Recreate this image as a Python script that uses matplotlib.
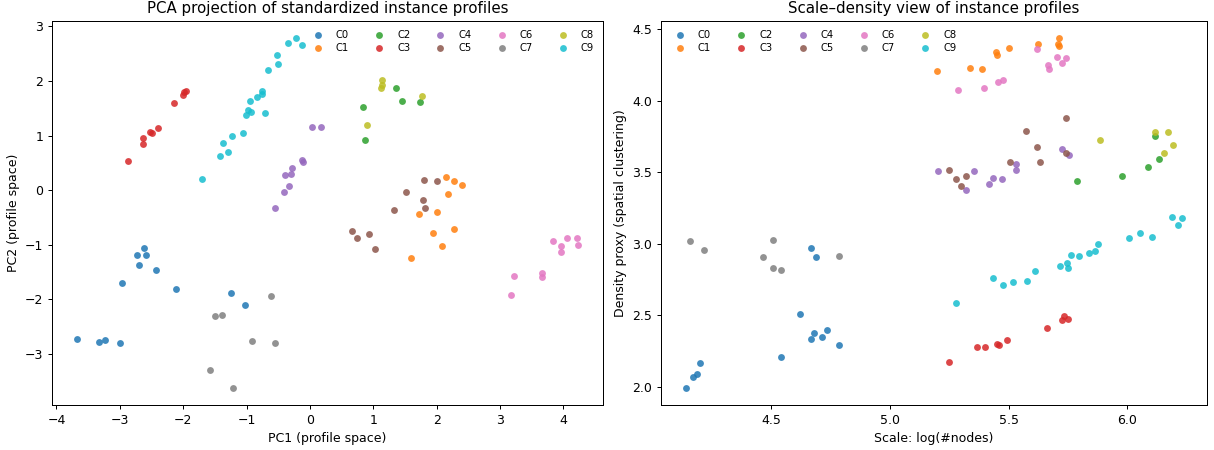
import matplotlib
matplotlib.use("Agg")
import matplotlib.pyplot as plt

clusters = ["C0", "C1", "C2", "C3", "C4", "C5", "C6", "C7", "C8", "C9"]

# left panel: PCA coordinates per cluster
pc1 = {
    "C0": [-3.675, -3.33, -3.24, -3.00, -2.96, -2.73, -2.70, -2.62, -2.59, -2.43, -2.11, -1.24, -1.03],
    "C1": [2.14, 2.27, 2.40, 2.18, 1.72, 2.00, 1.94, 2.27, 2.085, 1.60],
    "C2": [0.83, 0.87, 1.354, 1.46, 1.744],
    "C3": [-2.87, -2.63, -2.63, -2.52, -2.50, -2.40, -2.14, -2.00, -1.98, -1.96],
    "C4": [-0.558, -0.415, -0.325, -0.40, -0.305, -0.29, -0.12, -0.11, 0.027, 0.17],
    "C5": [1.80, 2.00, 1.51, 1.78, 1.82, 1.32, 0.66, 0.74, 0.94, 1.03],
    "C6": [3.22, 3.17, 3.655, 3.66, 3.83, 3.96, 3.955, 4.06, 4.22, 4.23],
    "C7": [-1.505, -1.385, -0.61, -0.92, -0.547, -1.57, -1.22],
    "C8": [1.115, 1.13, 1.13, 0.90, 1.77],
    "C9": [-1.71, -1.415, -1.30, -1.37, -1.23, -1.05, -1.016, -0.97, -0.93, -0.94,
           -0.83, -0.75, -0.75, -0.71, -0.66, -0.51, -0.52, -0.35, -0.215, -0.13],
}
pc2 = {
    "C0": [-2.73, -2.79, -2.75, -2.81, -1.70, -1.19, -1.37, -1.06, -1.19, -1.47, -1.82, -1.895, -2.11],
    "C1": [0.247, 0.16, 0.10, -0.07, -0.44, -0.41, -0.78, -0.705, -1.02, -1.24],
    "C2": [1.517, 0.92, 1.87, 1.63, 1.61],
    "C3": [0.535, 0.846, 0.95, 1.06, 1.05, 1.14, 1.60, 1.74, 1.79, 1.82],
    "C4": [-0.32, -0.03, 0.07, 0.28, 0.30, 0.41, 0.55, 0.52, 1.15, 1.15],
    "C5": [0.187, 0.16, -0.04, -0.18, -0.33, -0.37, -0.755, -0.87, -0.80, -1.08],
    "C6": [-1.566, -1.93, -1.52, -1.59, -0.93, -1.03, -1.13, -0.875, -0.88, -1.00],
    "C7": [-2.317, -2.29, -1.94, -2.76, -2.80, -3.29, -3.62],
    "C8": [1.87, 1.93, 2.02, 1.19, 1.72],
    "C9": [0.205, 0.626, 0.69, 0.86, 1.00, 1.04, 1.37, 1.46, 1.44, 1.63,
           1.71, 1.755, 1.82, 1.41, 2.21, 2.31, 2.47, 2.70, 2.78, 2.66],
}

# right panel: log(#nodes) vs density proxy
scale = {
    "C0": [4.141, 4.173, 4.188, 4.202, 4.542, 4.623, 4.670, 4.688, 4.670, 4.680, 4.716, 4.734, 4.786],
    "C1": [5.198, 5.336, 5.387, 5.446, 5.450, 5.500, 5.622, 5.712, 5.710, 5.712],
    "C2": [5.788, 5.977, 6.086, 6.132, 6.117],
    "C3": [5.251, 5.369, 5.401, 5.453, 5.458, 5.492, 5.663, 5.724, 5.735, 5.752],
    "C4": [5.202, 5.322, 5.355, 5.419, 5.433, 5.471, 5.531, 5.531, 5.724, 5.755],
    "C5": [5.251, 5.277, 5.301, 5.322, 5.504, 5.634, 5.620, 5.574, 5.742, 5.741],
    "C6": [5.287, 5.397, 5.457, 5.475, 5.618, 5.664, 5.671, 5.706, 5.723, 5.742],
    "C7": [4.158, 4.218, 4.465, 4.509, 4.509, 4.542, 4.786],
    "C8": [5.884, 6.117, 6.173, 6.193, 6.153],
    "C9": [5.277, 5.433, 5.475, 5.517, 5.578, 5.611, 5.716, 5.748, 5.752, 5.763,
           5.798, 5.837, 5.862, 5.876, 6.005, 6.053, 6.106, 6.188, 6.231, 6.214],
}
density = {
    "C0": [1.993, 2.068, 2.086, 2.166, 2.210, 2.511, 2.971, 2.910, 2.331, 2.373, 2.350, 2.399, 2.292],
    "C1": [4.211, 4.228, 4.223, 4.339, 4.321, 4.372, 4.398, 4.437, 4.398, 4.386],
    "C2": [3.439, 3.474, 3.540, 3.591, 3.754],
    "C3": [2.173, 2.278, 2.278, 2.296, 2.292, 2.324, 2.411, 2.469, 2.492, 2.474],
    "C4": [3.509, 3.376, 3.509, 3.416, 3.460, 3.453, 3.561, 3.514, 3.663, 3.619],
    "C5": [3.514, 3.453, 3.402, 3.477, 3.572, 3.570, 3.677, 3.787, 3.880, 3.635],
    "C6": [4.076, 4.090, 4.132, 4.143, 4.365, 4.248, 4.223, 4.309, 4.262, 4.297],
    "C7": [3.020, 2.957, 2.905, 3.024, 2.831, 2.814, 2.917],
    "C8": [3.728, 3.784, 3.780, 3.689, 3.635],
    "C9": [2.586, 2.758, 2.714, 2.735, 2.742, 2.810, 2.842, 2.863, 2.831, 2.924,
           2.912, 2.933, 2.947, 2.996, 3.038, 3.076, 3.048, 3.190, 3.181, 3.132],
}

colors = plt.get_cmap("tab10").colors

W, H = 1214, 450
fig = plt.figure(figsize=(W / 90, H / 90), dpi=90)
ax1 = fig.add_axes([52 / W, 45 / H, 551 / W, 384 / H])
ax2 = fig.add_axes([661 / W, 45 / H, 546 / W, 384 / H])

for i, c in enumerate(clusters):
    ax1.scatter(pc1[c], pc2[c], s=30, color=colors[i], alpha=0.85,
                linewidths=0, label=c)
    ax2.scatter(scale[c], density[c], s=30, color=colors[i], alpha=0.85,
                linewidths=0, label=c)

ax1.set_title("PCA projection of standardized instance profiles")
ax1.set_xlabel("PC1 (profile space)")
ax1.set_ylabel("PC2 (profile space)")
ax1.legend(ncol=5, fontsize=8, frameon=False, loc="upper right", labelspacing=0.3)

ax2.set_title("Scale\u2013density view of instance profiles")
ax2.set_xlabel("Scale: log(#nodes)")
ax2.set_ylabel("Density proxy (spatial clustering)")
ax2.legend(ncol=5, fontsize=8, frameon=False, loc="upper left", labelspacing=0.3)

fig.savefig("out.png", dpi=90)
